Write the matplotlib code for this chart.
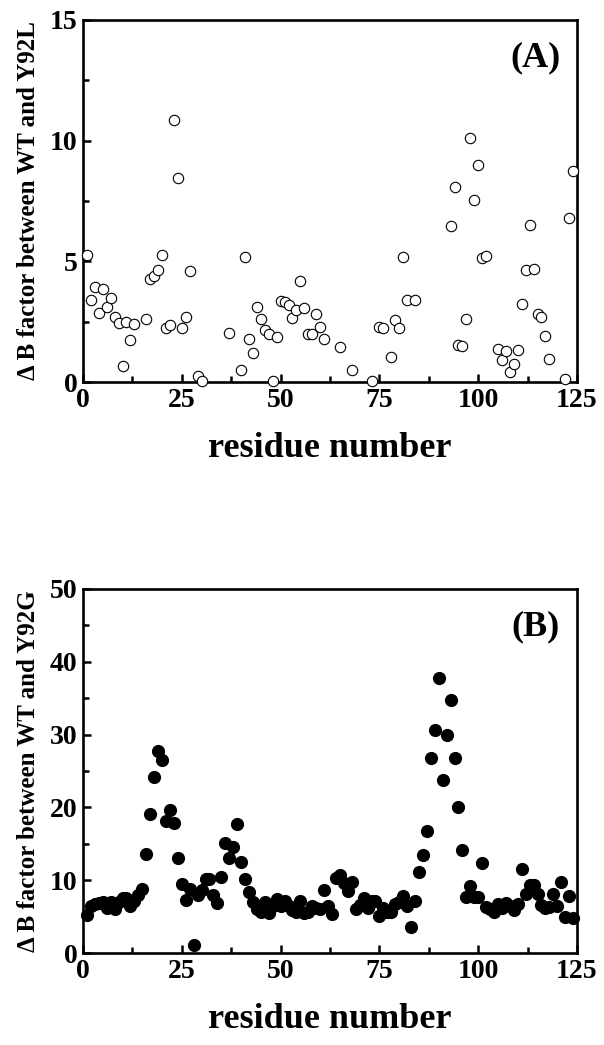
import numpy as np
import matplotlib
matplotlib.use('Agg')
import matplotlib.pyplot as plt
from matplotlib.ticker import MultipleLocator

# panel A: delta B factor WT vs Y92L (open circles)
res_a = [1, 2, 3, 4, 5, 6, 7, 8, 9, 10, 11, 12, 13, 16, 17, 18, 19, 20, 21, 22,
         23, 24, 25, 26, 27, 29, 30, 37, 40, 41, 42, 43, 44, 45, 46, 47, 48, 49, 50,
         51, 52, 53, 54, 55, 56, 57, 58, 59, 60, 61, 65, 68, 73, 75, 76, 78, 79, 80,
         81, 82, 84, 93, 94, 95, 96, 97, 98, 99, 100, 101, 102, 105, 106, 107, 108,
         109, 110, 111, 112, 113, 114, 115, 116, 117, 118, 122, 123, 124]
db_a = [5.25, 3.4, 3.95, 2.85, 3.85, 3.1, 3.5, 2.7, 2.45, 0.65, 2.5, 1.75, 2.4,
        2.6, 4.25, 4.4, 4.65, 5.25, 2.25, 2.35, 10.85, 8.45, 2.25, 2.7, 4.6, 0.25,
        0.03, 2.05, 0.5, 5.2, 1.8, 1.2, 3.1, 2.6, 2.15, 2.0, 0.03, 1.85, 3.35, 3.3,
        3.2, 2.65, 3.0, 4.2, 3.05, 2.0, 2.0, 2.8, 2.3, 1.8, 1.45, 0.48, 0.03, 2.3,
        2.25, 1.05, 2.55, 2.25, 5.2, 3.4, 3.4, 6.45, 8.1, 1.55, 1.5, 2.6, 10.1, 7.55,
        9.0, 5.15, 5.22, 1.35, 0.9, 1.3, 0.4, 0.75, 1.32, 3.25, 4.65, 6.5, 4.7, 2.8,
        2.7, 1.92, 0.95, 0.12, 6.8, 8.75]

# panel B: delta B factor WT vs Y92G (filled circles), residues 1..124
res_b = list(range(1, 125))
db_b = [5.2, 6.4, 6.8, 6.9, 7.0, 6.2, 7.0, 6.0, 7.0, 7.5,
        7.5, 6.4, 7.2, 8.0, 8.8, 13.6, 19.1, 24.2, 27.8, 26.5,
        18.1, 19.6, 17.8, 13.0, 9.5, 7.3, 8.8, 1.1, 8.0, 8.7,
        10.1, 10.1, 8.0, 6.9, 10.5, 15.1, 13.0, 14.6, 17.7, 12.5,
        10.1, 8.4, 7.0, 6.1, 5.6, 7.0, 5.5, 6.4, 7.4, 6.4,
        7.1, 6.5, 5.9, 5.6, 7.1, 5.5, 5.6, 6.4, 6.2, 6.0,
        8.6, 6.4, 5.4, 10.3, 10.7, 9.6, 8.5, 9.8, 6.1, 6.6,
        7.5, 6.2, 7.1, 7.2, 5.1, 6.2, 5.7, 5.6, 6.8, 6.95,
        7.8, 6.5, 3.6, 7.2, 11.1, 13.5, 16.8, 26.8, 30.6, 37.8,
        23.8, 30.0, 34.7, 26.8, 20.1, 14.2, 7.7, 9.2, 7.7, 7.7,
        12.3, 6.3, 6.0, 5.7, 6.8, 6.2, 6.9, 6.4, 5.9, 6.7,
        11.6, 8.1, 9.3, 9.3, 8.1, 6.6, 6.2, 6.3, 8.1, 6.4,
        9.8, 5.0, 7.9, 4.8]

plt.rcParams['font.family'] = ['Liberation Serif', 'DejaVu Serif']
plt.rcParams['font.weight'] = 'bold'

fig = plt.figure(figsize=(6.04, 10.45), dpi=100)
ax1 = fig.add_axes([0.1374, 0.6344, 0.818, 0.3465])
ax2 = fig.add_axes([0.1374, 0.0880, 0.818, 0.3484])


def style(ax, ymax, ymajor, ylabel, tag):
    ax.set_xlim(0, 125)
    ax.set_ylim(0, ymax)
    ax.xaxis.set_major_locator(MultipleLocator(25))
    ax.xaxis.set_minor_locator(MultipleLocator(12.5))
    ax.yaxis.set_major_locator(MultipleLocator(ymajor))
    ax.yaxis.set_minor_locator(MultipleLocator(ymajor / 2))
    ax.tick_params(which='major', direction='in', length=6, width=1.8,
                   labelsize=20, pad=4)
    ax.tick_params(which='minor', direction='in', length=4, width=1.8)
    for lab in ax.get_xticklabels() + ax.get_yticklabels():
        lab.set_fontweight('bold')
    for sp in ax.spines.values():
        sp.set_linewidth(1.9)
    ax.set_xlabel('residue number', fontsize=26, fontweight='bold', labelpad=14)
    ax.set_ylabel(ylabel, fontsize=18, fontweight='bold', labelpad=7)
    ax.text(0.915, 0.895, tag, transform=ax.transAxes, fontsize=26,
            fontweight='bold', ha='center', va='center')


ax1.scatter(res_a, db_a, s=56, facecolors='white', edgecolors='black',
            linewidths=0.8, zorder=3, clip_on=False)
style(ax1, 15, 5, 'Δ B factor between WT and Y92L', '(A)')

ax2.scatter(res_b, db_b, s=72, color='black', zorder=3, clip_on=False)
style(ax2, 50, 10, 'Δ B factor between WT and Y92G', '(B)')

fig.savefig('out.png', dpi=100)
